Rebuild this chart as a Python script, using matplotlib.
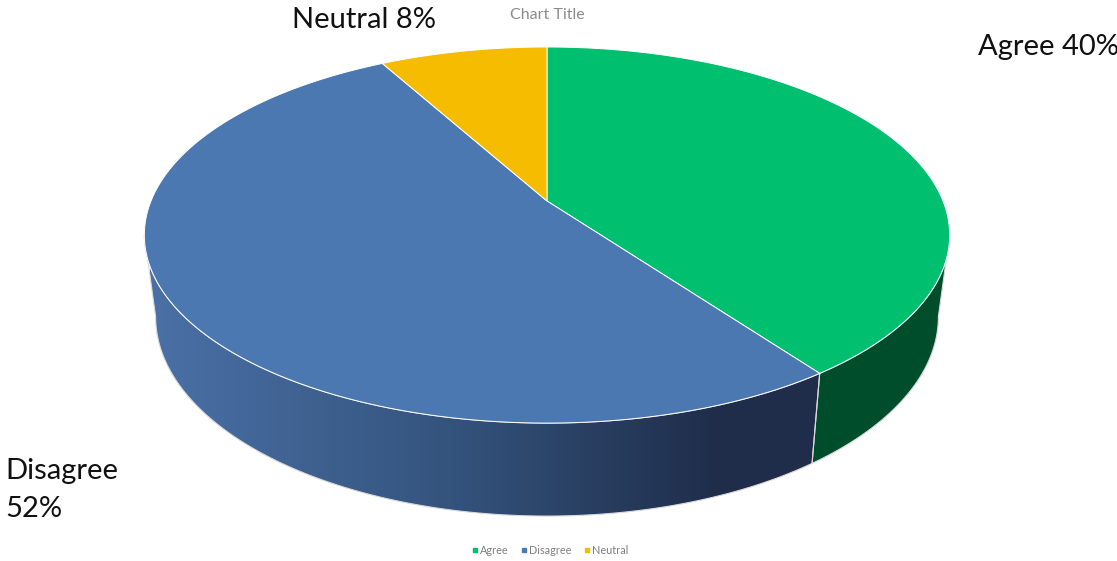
import numpy as np
import matplotlib.pyplot as plt
from matplotlib.colors import LinearSegmentedColormap
from matplotlib.lines import Line2D
from matplotlib.patches import Polygon

categories = ['Agree', 'Disagree', 'Neutral']
values = [40, 52, 8]
top_colors = ['#00BF6F', '#4C78B2', '#F5BC00']
side_colors = [('#004D2B', '#004D2B', '#004D2B'), ('#4A70A6', '#35557F', '#1F2D4A'), ('#8A6C00', '#8A6C00', '#8A6C00')]
data_labels = ['Agree 40%', 'Disagree\n52%', 'Neutral 8%']
label_pos = [(978, 47), (5, 490), (292, 20)]

plt.rcParams['font.family'] = ['Lato', 'DejaVu Sans']

# tilted disc, pixel space of the picture
CX, CY = 547, 201
RX = 396
A, C = -145.5, 0.181

def top_point(theta):
    u, v = np.sin(theta), np.cos(theta)
    w = C * v + 1
    return CX + RX * u / w, (A * v + CY) / w

def bottom_point(theta):
    x, y = top_point(theta)
    return CX + 0.972 * (x - CX), 1.06 * y + 67.6

def arc(fn, a, b):
    t = np.linspace(a, b, max(int(abs(b - a) * 120), 2))
    x, y = fn(t)
    return np.column_stack([x, y])

def draw_side(ax, a, b, colors):
    top = arc(top_point, a, b)
    bottom = arc(bottom_point, a, b)
    poly = Polygon(np.vstack([top, bottom[::-1]]), closed=True, fc='none', ec='#d9d9d9', lw=0.8, zorder=2)
    ax.add_patch(poly)
    cmap = LinearSegmentedColormap.from_list('side', [(0, colors[0]), (0.36, colors[1]), (0.71, colors[2]), (1, colors[2])])
    img = ax.imshow(np.linspace(0, 1, 256).reshape(1, -1), cmap=cmap, aspect='auto',
                    extent=(150, 950, 561, 0), zorder=1)
    img.set_clip_path(poly)

def draw_pie(ax):
    fractions = np.array(values) / sum(values)
    edges = np.concatenate([[0], np.cumsum(fractions)]) * 2 * np.pi
    side_from, side_to = np.radians(100.4), np.radians(259.6)
    for i in range(len(values)):
        a = max(edges[i], side_from)
        b = min(edges[i + 1], side_to)
        if b > a:
            draw_side(ax, a, b, side_colors[i])
    for i in range(len(values)):
        pts = arc(top_point, edges[i], edges[i + 1])
        pts = np.vstack([[CX, CY], pts])
        ax.add_patch(Polygon(pts, closed=True, fc=top_colors[i], ec='white', lw=0.7, zorder=3))

fig = plt.figure(figsize=(11.17, 5.61), dpi=100)
ax = fig.add_axes([0, 0, 1, 1])
draw_pie(ax)
ax.set_xlim(0, 1117)
ax.set_ylim(561, 0)
ax.axis('off')

for text, (x, y) in zip(data_labels, label_pos):
    ax.text(x, y, text, fontsize=21, color='#111111', va='center', ha='left', linespacing=1.55, zorder=5)
ax.text(547, 15, 'Chart Title', fontsize=11.5, color='#8c8c8c', ha='center', va='center')

handles = [Line2D([], [], ls='none', marker='s', ms=2.8, color=c) for c in top_colors]
ax.legend(handles, categories, loc='center', bbox_to_anchor=(550, 550), bbox_transform=ax.transData,
          ncol=3, frameon=False, fontsize=7.8, labelcolor='#7f7f7f', handlelength=0.7, handletextpad=0.1,
          columnspacing=1.1, borderpad=0)

fig.savefig('out.png', dpi=100)
